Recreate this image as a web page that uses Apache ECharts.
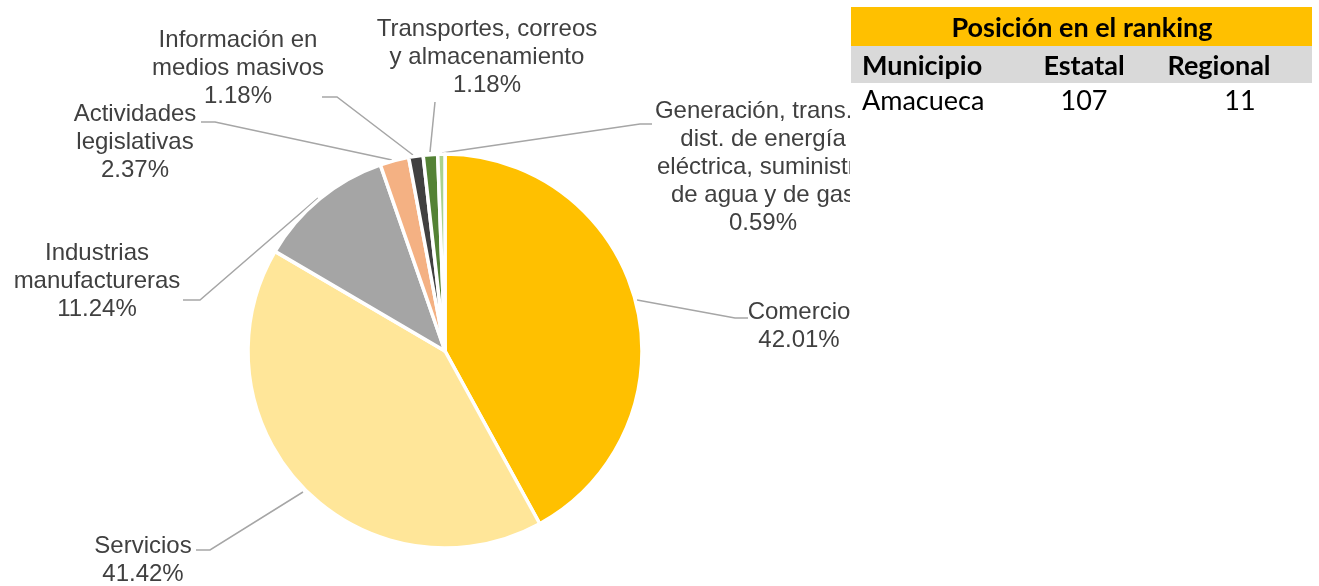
<!DOCTYPE html>
<html>
<head>
<meta charset="utf-8">
<script src="https://cdn.jsdelivr.net/npm/echarts@6/dist/echarts.min.js"></script>
<style>
  html, body { margin: 0; padding: 0; background: #fff; }
  #chart { width: 1319px; height: 586px; }
</style>
</head>
<body>
<div id="chart"></div>
<script>
const SECTORS = [
  'Comercio',
  'Servicios',
  'Industrias\nmanufactureras',
  'Actividades\nlegislativas',
  'Información en\nmedios masivos',
  'Transportes, correos\ny almacenamiento',
  'Generación, trans. y\ndist. de energía\neléctrica, suministro\nde agua y de gas',
]
const SHARES = [42.01, 41.42, 11.24, 2.37, 1.18, 1.18, 0.59]
const COLORS = ['#FFC000', '#FFE699', '#A5A5A5', '#F4B183', '#404040', '#548235', '#A9D18E']

const RANKING_TITLE = 'Posición en el ranking'
const RANKING_HEAD = ['Municipio', 'Estatal', 'Regional']
const RANKING_ROW = ['Amacueca', '107', '11']

// label centre + leader line bend points (layout only)
const LABEL_LAYOUT = [
  { x: 799, y: 326, line: [[637, 300], [735, 318], [748, 318]] },
  { x: 143, y: 560, line: [[303, 492], [210, 550], [196, 550]] },
  { x: 97, y: 281, line: [[318, 198], [200, 300], [183, 300]] },
  { x: 135, y: 142, line: [[392, 160], [215, 122], [201, 122]] },
  { x: 238, y: 68, line: [[413, 155], [337, 97], [322, 97]] },
  { x: 487, y: 57, line: [[430, 152], [435, 102]] },
  { x: 763, y: 167, line: [[442, 153], [640, 124], [652, 124]] },
]

const chart = echarts.init(document.getElementById('chart'))

const TABLE_FONT = 'Lato, "Open Sans", sans-serif'
const colX = [862, 1084, 1219]

chart.setOption({
  animation: false,
  series: [
    {
      type: 'pie',
      center: [445, 351],
      radius: 197,
      startAngle: 90,
      clockwise: true,
      data: SECTORS.map((name, i) => ({ name, value: SHARES[i], itemStyle: { color: COLORS[i] } })),
      itemStyle: { borderColor: '#fff', borderWidth: 3.5 },
      label: {
        show: true,
        formatter: (p) => `${p.name}\n${p.value.toFixed(2)}%`,
        fontFamily: '"Liberation Sans", Arial, sans-serif',
        fontSize: 24,
        lineHeight: 28,
        color: '#404040',
        align: 'center',
      },
      labelLine: { show: true, lineStyle: { color: '#A6A6A6', width: 1.5 } },
      labelLayout: (params) => {
        const l = LABEL_LAYOUT[params.dataIndex]
        return {
          x: l.x,
          y: l.y,
          align: 'center',
          verticalAlign: 'middle',
          labelLinePoints: l.line,
        }
      },
    },
  ],
  graphic: [
    { type: 'rect', z: 100, shape: { x: 850, y: 0, width: 469, height: 586 }, style: { fill: '#fff' } },
    { type: 'rect', z: 101, shape: { x: 851, y: 7, width: 461, height: 39 }, style: { fill: '#FFC000' } },
    { type: 'rect', z: 101, shape: { x: 851, y: 46, width: 461, height: 37 }, style: { fill: '#D9D9D9' } },
    {
      type: 'text', z: 102, x: 1082, y: 28,
      style: { text: RANKING_TITLE, font: `bold 27px ${TABLE_FONT}`, fill: '#000', align: 'center', verticalAlign: 'middle' },
    },
    ...RANKING_HEAD.map((t, i) => ({
      type: 'text', z: 102, x: colX[i], y: 66,
      style: { text: t, font: `bold 27px ${TABLE_FONT}`, fill: '#000', align: i === 0 ? 'left' : 'center', verticalAlign: 'middle' },
    })),
    ...RANKING_ROW.map((t, i) => ({
      type: 'text', z: 102, x: i === 2 ? 1240 : colX[i], y: 101,
      style: { text: t, font: `27px ${TABLE_FONT}`, fill: '#000', align: i === 0 ? 'left' : 'center', verticalAlign: 'middle' },
    })),
  ],
})
</script>
</body>
</html>
